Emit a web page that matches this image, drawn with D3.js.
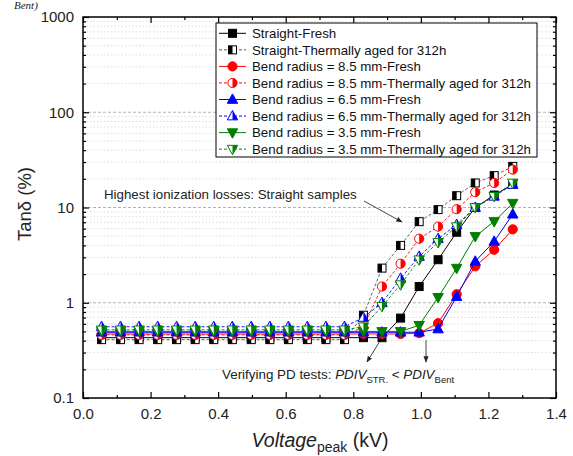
<!DOCTYPE html>
<html><head><meta charset="utf-8">
<script src="https://cdn.jsdelivr.net/npm/d3@7"></script>
<style>
body{margin:0;background:#fff;}
svg{display:block;font-family:"Liberation Sans",Arial,sans-serif;}
</style></head><body>
<svg id="c" width="573" height="456"></svg>
<script>
const voltage = [0.055,0.111,0.166,0.221,0.277,0.332,0.387,0.442,0.498,0.553,0.608,0.664,0.719,0.774,0.830,0.885,0.940,0.995,1.051,1.106,1.161,1.217,1.272];
const straightFresh = [0.43,0.43,0.43,0.43,0.43,0.43,0.43,0.43,0.43,0.43,0.43,0.43,0.43,0.43,0.43,0.43,0.69,1.48,2.83,5.5,10.0,13.5,17.5];
const straightAged  = [0.41,0.41,0.41,0.41,0.41,0.41,0.41,0.41,0.41,0.41,0.41,0.41,0.41,0.41,0.74,2.31,4.0,7.1,9.5,13.3,18.1,21.6,27];
const bend85Fresh   = [0.47,0.47,0.47,0.47,0.47,0.47,0.47,0.47,0.47,0.47,0.47,0.47,0.47,0.47,0.47,0.47,0.47,0.48,0.61,1.23,2.41,3.6,5.9];
const bend85Aged    = [0.46,0.46,0.46,0.46,0.46,0.46,0.46,0.46,0.46,0.46,0.46,0.46,0.46,0.46,0.55,1.48,2.57,4.7,6.3,9.6,14.5,18.1,25];
const bend65Fresh   = [0.49,0.49,0.49,0.49,0.49,0.49,0.49,0.49,0.49,0.49,0.49,0.49,0.49,0.49,0.49,0.49,0.49,0.49,0.53,1.16,2.72,4.4,8.5];
const bend65Aged    = [0.56,0.56,0.56,0.56,0.56,0.56,0.56,0.56,0.56,0.56,0.56,0.56,0.56,0.56,0.70,1.0,1.8,3.06,4.7,6.6,10.0,13.1,17.4];
const bend35Fresh   = [0.50,0.50,0.50,0.50,0.50,0.50,0.50,0.50,0.50,0.50,0.50,0.50,0.50,0.50,0.50,0.50,0.50,0.58,1.14,2.31,4.97,7.14,11.1];
const bend35Aged    = [0.52,0.52,0.52,0.52,0.52,0.52,0.52,0.52,0.52,0.52,0.52,0.52,0.52,0.52,0.56,0.92,1.55,2.83,4.3,6.3,10.0,13.1,18.1];
const seriesNames = ["Straight-Fresh","Straight-Thermally aged for 312h","Bend radius = 8.5 mm-Fresh","Bend radius = 8.5 mm-Thermally aged for 312h","Bend radius = 6.5 mm-Fresh","Bend radius = 6.5 mm-Thermally aged for 312h","Bend radius = 3.5 mm-Fresh","Bend radius = 3.5 mm-Thermally aged for 312h"];
const xTicks = [0,0.2,0.4,0.6,0.8,1.0,1.2,1.4];
const yTicks = [0.1,1,10,100,1000];
const yTickLabels = ["0.1","1","10","100","1000"];

const seriesData = [straightFresh,straightAged,bend85Fresh,bend85Aged,bend65Fresh,bend65Aged,bend35Fresh,bend35Aged];
const colors = ["#000","#000","#ff0000","#ff0000","#0000ff","#0000ff","#008000","#008000"];
const lineColors = ["#000","#555","#ff0000","#ff0000","#0000ff","#0000ff","#008000","#008000"];
const shapes = ["square","square","circle","circle","up","up","down","down"];
const aged = [false,true,false,true,false,true,false,true];

const svg = d3.select("#c");
const L=83,R=556,T=17,B=398;
const x = d3.scaleLinear().domain([0,1.4]).range([L,R]);
const y = d3.scaleLog().domain([0.1,1000]).range([B,T]);

// grid
const minor=[];
[0.1,1,10,100].forEach(d=>{for(let k=2;k<=9;k++) minor.push(d*k);});
svg.append("g").selectAll("line").data(minor).join("line")
  .attr("x1",L).attr("x2",R).attr("y1",d=>y(d)).attr("y2",d=>y(d))
  .attr("stroke","#d4d4d4").attr("stroke-width",0.8).attr("stroke-dasharray","1.5,2");
svg.append("g").selectAll("line").data([1,10,100]).join("line")
  .attr("x1",L).attr("x2",R).attr("y1",d=>y(d)).attr("y2",d=>y(d))
  .attr("stroke","#aaa").attr("stroke-width",0.9).attr("stroke-dasharray","3,2");

// axes
const xMinor=[0.1,0.3,0.5,0.7,0.9,1.1,1.3];
const gL = svg.append("g").attr("transform",`translate(${L},0)`)
  .call(d3.axisLeft(y).tickValues(yTicks).tickFormat((d,i)=>yTickLabels[i]).tickSizeInner(-6).tickSizeOuter(0).tickPadding(9));
const gLm = svg.append("g").attr("transform",`translate(${L},0)`)
  .call(d3.axisLeft(y).tickValues(minor).tickFormat("").tickSizeInner(-3).tickSizeOuter(0));
const gR = svg.append("g").attr("transform",`translate(${R},0)`)
  .call(d3.axisRight(y).tickValues(yTicks).tickFormat("").tickSizeInner(-6).tickSizeOuter(0));
const gRm = svg.append("g").attr("transform",`translate(${R},0)`)
  .call(d3.axisRight(y).tickValues(minor).tickFormat("").tickSizeInner(-3).tickSizeOuter(0));
const gB = svg.append("g").attr("transform",`translate(0,${B})`)
  .call(d3.axisBottom(x).tickValues(xTicks).tickFormat(d3.format(".1f")).tickSizeInner(-6).tickSizeOuter(0).tickPadding(10));
const gBm = svg.append("g").attr("transform",`translate(0,${B})`)
  .call(d3.axisBottom(x).tickValues(xMinor).tickFormat("").tickSizeInner(-3).tickSizeOuter(0));
const gT = svg.append("g").attr("transform",`translate(0,${T})`)
  .call(d3.axisTop(x).tickValues(xTicks).tickFormat("").tickSizeInner(-6).tickSizeOuter(0));
const gTm = svg.append("g").attr("transform",`translate(0,${T})`)
  .call(d3.axisTop(x).tickValues(xMinor).tickFormat("").tickSizeInner(-3).tickSizeOuter(0));
[gL,gLm,gR,gRm,gB,gBm,gT,gTm].forEach(g=>{
  g.select(".domain").remove();
  g.selectAll(".tick line").attr("stroke","#000").attr("stroke-width",1.2);
  g.selectAll("text").attr("font-size",15).attr("fill","#222").attr("font-family","Liberation Sans, Arial, sans-serif");
});
svg.append("rect").attr("x",L).attr("y",T).attr("width",R-L).attr("height",B-T)
  .attr("fill","none").attr("stroke","#000").attr("stroke-width",1.5);

// markers
function drawMarker(g,shape,color,half,cx,cy){
  const fill = half ? "#fff" : color;
  if(shape==="square"){
    const h=4;
    g.append("rect").attr("x",cx-h).attr("y",cy-h).attr("width",2*h).attr("height",2*h)
      .attr("fill",fill).attr("stroke",color).attr("stroke-width",1);
    if(half) g.append("rect").attr("x",cx-h).attr("y",cy-h).attr("width",h).attr("height",2*h).attr("fill",color);
  } else if(shape==="circle"){
    const r=4.6;
    g.append("circle").attr("cx",cx).attr("cy",cy).attr("r",r).attr("fill",fill).attr("stroke",color).attr("stroke-width",1);
    if(half) g.append("path").attr("d",`M${cx},${cy-r}A${r},${r} 0 0 1 ${cx},${cy+r}Z`).attr("fill",color);
  } else {
    const w=5.2, a=5.6, b=3.8, sgn = shape==="up"?1:-1;
    const p = [[cx,cy-sgn*a],[cx-w,cy+sgn*b],[cx+w,cy+sgn*b]];
    g.append("path").attr("d","M"+p.map(q=>q.join(",")).join("L")+"Z")
      .attr("fill",fill).attr("stroke",color).attr("stroke-width",1);
    if(half){
      const h=[[cx,cy-sgn*a],[cx,cy+sgn*b],[cx+w,cy+sgn*b]];
      g.append("path").attr("d","M"+h.map(q=>q.join(",")).join("L")+"Z").attr("fill",color);
    }
  }
}

const line = d3.line().x((d,i)=>x(voltage[i])).y(d=>y(d));
seriesData.forEach((data,si)=>{
  const g = svg.append("g");
  g.append("path").datum(data).attr("d",line).attr("fill","none")
    .attr("stroke",lineColors[si]).attr("stroke-width",aged[si]?0.9:1)
    .attr("stroke-dasharray",aged[si]?"3,2":null);
  data.forEach((v,i)=>drawMarker(g,shapes[si],colors[si],aged[si],x(voltage[i]),y(v)));
});

// legend
const lg = svg.append("g");
lg.append("rect").attr("x",216).attr("y",23).attr("width",321).attr("height",134)
  .attr("fill","#fff").attr("stroke","#000").attr("stroke-width",1);
seriesNames.forEach((n,i)=>{
  const yy = 33.3 + i*16.55;
  lg.append("line").attr("x1",219).attr("x2",246).attr("y1",yy).attr("y2",yy)
    .attr("stroke",lineColors[i]).attr("stroke-width",1).attr("stroke-dasharray",aged[i]?"3,2":null);
  drawMarker(lg,shapes[i],colors[i],aged[i],232.5,yy);
  lg.append("text").attr("x",252).attr("y",yy+4.7).attr("font-size",13.3).attr("fill","#111").text(n);
});

// annotations
svg.append("defs").append("marker").attr("id","ah").attr("viewBox","0 0 10 10").attr("refX",9).attr("refY",5)
  .attr("markerWidth",7).attr("markerHeight",7).attr("orient","auto")
  .append("path").attr("d","M0,1L10,5L0,9Z").attr("fill","#222");
svg.append("text").attr("x",104).attr("y",199).attr("font-size",13.3).attr("fill","#222")
  .text("Highest ionization losses: Straight samples");
svg.append("line").attr("x1",364).attr("y1",201).attr("x2",402).attr("y2",222)
  .attr("stroke","#333").attr("stroke-width",0.9).attr("marker-end","url(#ah)");
svg.append("line").attr("x1",380).attr("y1",341).attr("x2",367).attr("y2",362)
  .attr("stroke","#333").attr("stroke-width",0.9).attr("marker-end","url(#ah)");
svg.append("line").attr("x1",426).attr("y1",340).attr("x2",426).attr("y2",362)
  .attr("stroke","#333").attr("stroke-width",0.9).attr("marker-end","url(#ah)");
const t2 = svg.append("text").attr("x",222).attr("y",379).attr("font-size",13.4).attr("fill","#222");
t2.append("tspan").text("Verifying PD tests: ");
t2.append("tspan").attr("font-style","italic").text("PDIV");
t2.append("tspan").attr("font-size",9.5).attr("dy",4).text("STR.");
t2.append("tspan").attr("dy",-4).text(" < ");
t2.append("tspan").attr("font-style","italic").text("PDIV");
t2.append("tspan").attr("font-size",9.5).attr("dy",4).text("Bent");

// axis titles
svg.append("text").attr("transform","translate(31,204) rotate(-90)").attr("text-anchor","middle")
  .attr("font-size",18.5).attr("fill","#222").text("Tanδ (%)");
const xt = svg.append("text").attr("x",320).attr("y",447).attr("text-anchor","middle").attr("font-size",19.5).attr("fill","#222");
xt.append("tspan").attr("font-style","italic").text("Voltage");
xt.append("tspan").attr("font-size",14).attr("dy",5).text("peak");
xt.append("tspan").attr("dy",-5).text(" (kV)");

// caption fragment from the page above
svg.append("text").attr("x",14).attr("y",9).attr("font-family","Liberation Serif, serif").attr("font-style","italic")
  .attr("font-size",11).attr("fill","#222").text("Bent)");
</script>
</body></html>
